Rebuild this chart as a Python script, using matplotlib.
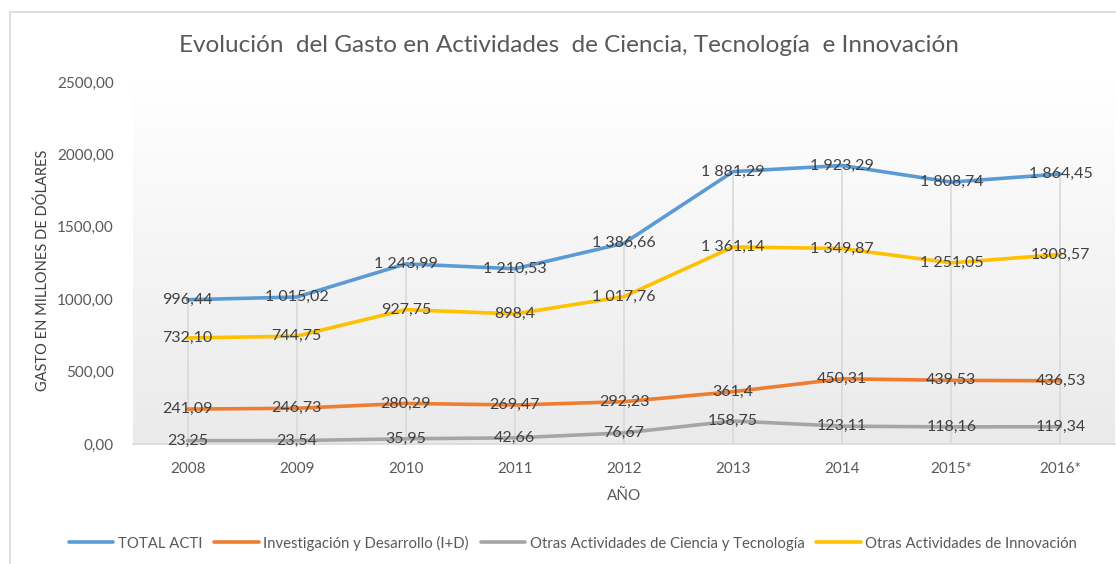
import numpy as np
import matplotlib
matplotlib.use("Agg")
import matplotlib.pyplot as plt
from matplotlib.patches import Rectangle

plt.rcParams['font.family'] = ['Lato', 'DejaVu Sans']

years = ["2008", "2009", "2010", "2011", "2012", "2013", "2014", "2015*", "2016*"]

total_acti = [996.44, 1015.02, 1243.99, 1210.53, 1386.66, 1881.29, 1923.29, 1808.74, 1864.45]
total_labels = ["996,44", "1 015,02", "1 243,99", "1 210,53", "1 386,66", "1 881,29", "1 923,29", "1 808,74", "1 864,45"]

id_values = [241.09, 246.73, 280.29, 269.47, 292.23, 361.4, 450.31, 439.53, 436.53]
id_labels = ["241,09", "246,73", "280,29", "269,47", "292,23", "361,4", "450,31", "439,53", "436,53"]

oct_values = [23.25, 23.54, 35.95, 42.66, 76.67, 158.75, 123.11, 118.16, 119.34]
oct_labels = ["23,25", "23,54", "35,95", "42,66", "76,67", "158,75", "123,11", "118,16", "119,34"]

oai_values = [732.10, 744.75, 927.75, 898.4, 1017.76, 1361.14, 1349.87, 1251.05, 1308.57]
oai_labels = ["732,10", "744,75", "927,75", "898,4", "1 017,76", "1 361,14", "1 349,87", "1 251,05", "1308,57"]

series_names = ["TOTAL ACTI", "Investigación y Desarrollo (I+D)",
                "Otras Actividades de Ciencia y Tecnología", "Otras Actividades de Innovación"]
yticks = [0, 500, 1000, 1500, 2000, 2500]
ytick_labels = ["0,00", "500,00", "1000,00", "1500,00", "2000,00", "2500,00"]

colors = ["#5B9BD5", "#ED7D31", "#A5A5A5", "#FFC000"]
W, H = 1116, 564
fig = plt.figure(figsize=(W / 100, H / 100), dpi=100)

# chart border
fig.patches.append(Rectangle((10 / W, -0.1), 1.2, 1 - 12 / H + 0.1, transform=fig.transFigure,
                             fill=False, edgecolor="#d9d9d9", linewidth=1.2))

ax = fig.add_axes([133 / W, 1 - 444 / H, (1115 - 133) / W, (444 - 82) / H])
x = np.arange(len(years))
ax.set_xlim(-0.5, len(years) - 0.5)
ax.set_ylim(0, 2500)

# gradient background
grad = np.linspace(0, 1, 256).reshape(-1, 1)
top = np.array([1.0, 1.0, 1.0])
bot = np.array([0xea, 0xea, 0xea]) / 255
img = top + (bot - top) * grad[..., None]
ax.imshow(img, extent=[0, 1, 0, 1], transform=ax.transAxes, aspect='auto', zorder=0, origin='upper')

all_series = [total_acti, id_values, oct_values, oai_values]
all_labels = [total_labels, id_labels, oct_labels, oai_labels]

# drop lines
tops = np.max(np.array(all_series), axis=0)
ax.vlines(x, 0, tops, colors="#d9d9d9", linewidth=1.2, zorder=1)

for vals, name, c in zip(all_series, series_names, colors):
    ax.plot(x, vals, color=c, linewidth=2.6, label=name, zorder=3,
            solid_joinstyle='round', solid_capstyle='round')

for vals, labs in zip(all_series, all_labels):
    for xi, v, l in zip(x, vals, labs):
        ax.text(xi, v, l, ha='center', va='center', fontsize=11.5, color="#404040", zorder=4)

for s in ['top', 'right', 'left']:
    ax.spines[s].set_visible(False)
ax.spines['bottom'].set_color("#d9d9d9")
ax.spines['bottom'].set_linewidth(1.2)
ax.spines['bottom'].set_zorder(2)

ax.set_xticks(x)
ax.set_xticklabels(years, fontsize=11, color="#595959")
ax.set_yticks(yticks)
ax.set_yticklabels(ytick_labels, fontsize=11, color="#595959")
ax.tick_params(axis='x', length=0, pad=13)
ax.tick_params(axis='y', length=0, pad=14)

ax.set_xlabel("AÑO", fontsize=11, color="#595959", labelpad=9)
fig.text(43 / W, 1 - 270 / H, "GASTO EN MILLONES DE DÓLARES", rotation=90,
         ha='center', va='center', fontsize=10.5, color="#404040")

fig.text(569 / W, 1 - 45 / H, "Evolución  del Gasto en Actividades  de Ciencia, Tecnología  e Innovación",
         ha='center', va='center', fontsize=17.5, color="#595959")

handles, labels = ax.get_legend_handles_labels()
fig.legend(handles, labels, loc='center', bbox_to_anchor=(573 / W, 1 - 543 / H), ncol=4,
           frameon=False, fontsize=10.7, labelcolor="#595959", handlelength=3.0,
           handletextpad=0.3, columnspacing=0.8)

fig.savefig("out.png", dpi=100)
